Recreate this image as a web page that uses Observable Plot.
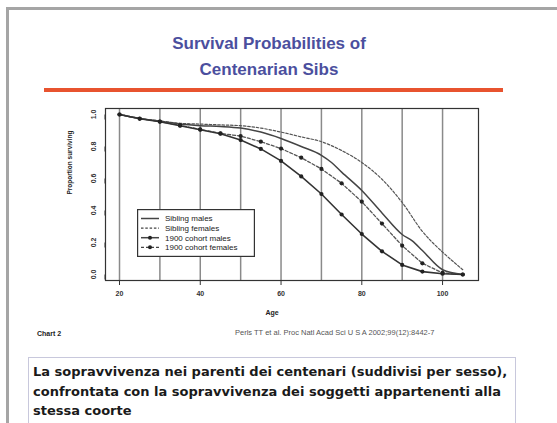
<!DOCTYPE html>
<html><head><meta charset="utf-8">
<script src="https://cdn.jsdelivr.net/npm/d3@7"></script>
<script src="https://cdn.jsdelivr.net/npm/@observablehq/plot@0.6"></script>
<style>
html,body{margin:0;padding:0;background:#fff;width:557px;height:423px;overflow:hidden;font-family:"Liberation Sans",Arial,sans-serif;}
#frame{position:absolute;left:6px;top:7px;width:600px;height:500px;border-left:3px solid #a5a5a5;border-top:3px solid #a5a5a5;}
#title{position:absolute;left:0;width:538px;top:31px;text-align:center;color:#4b4f9e;font-weight:bold;font-size:17px;line-height:26px;}
#rule{position:absolute;left:44px;width:459px;top:88px;height:4px;background:#e8532f;}
#chart{position:absolute;left:0;top:100px;}
#legend{position:absolute;left:137px;top:209px;}
#chartno{position:absolute;left:37px;top:330px;font-size:7px;font-weight:bold;color:#222;}
#cite{position:absolute;left:235px;top:328px;font-size:7.5px;color:#555;white-space:nowrap;}
#box{position:absolute;left:28px;top:357px;width:486px;height:80px;border:1.5px solid #c8c8dc;}
#boxtext{position:absolute;left:33px;top:362px;font-family:"DejaVu Sans",Verdana,sans-serif;font-weight:bold;font-size:13px;line-height:19.5px;color:#1a1a1a;white-space:nowrap;}
</style></head>
<body>
<div id="frame"></div>
<div id="title">Survival Probabilities of<br>Centenarian Sibs</div>
<div id="rule"></div>
<div id="chart"></div>
<div id="legend"></div>
<div id="chartno">Chart 2</div>
<div id="cite">Perls TT et al. Proc Natl Acad Sci U S A 2002;99(12):8442-7</div>
<div id="box"></div>
<div id="boxtext">La sopravvivenza nei parenti dei centenari (suddivisi per sesso),<br>confrontata con la sopravvivenza dei soggetti appartenenti alla<br>stessa coorte</div>
<script>
// ---- data ----
const cohortAges = [20,25,30,35,40,45,50,55,60,65,70,75,80,85,90,95,100,105];
const cohortMales = [1.0,0.973,0.955,0.93,0.905,0.88,0.84,0.785,0.71,0.613,0.503,0.375,0.253,0.145,0.06,0.018,0.005,0.0];
const cohortFemales = [1.0,0.975,0.956,0.932,0.907,0.882,0.865,0.83,0.787,0.73,0.66,0.57,0.455,0.318,0.18,0.07,0.01,0.0];
const sibMaleAges = [20,25,30,35,40,45,50,55,60,65,70,72.5,75,80,85,90,92.5,95,100,105];
const sibMales = [1.0,0.975,0.958,0.94,0.93,0.925,0.915,0.89,0.85,0.80,0.745,0.70,0.64,0.525,0.385,0.25,0.21,0.15,0.03,0.0];
const sibFemaleAges = [20,25,30,35,40,45,50,55,60,65,70,75,80,85,90,95,97.5,100,105];
const sibFemales = [1.0,0.975,0.96,0.945,0.94,0.935,0.93,0.915,0.89,0.86,0.83,0.775,0.70,0.595,0.45,0.27,0.20,0.14,0.03];
const seriesNames = ["Sibling males","Sibling females","1900 cohort males","1900 cohort females"];
const xTicks = [20,40,60,80,100];
const yTicks = [0,0.2,0.4,0.6,0.8,1.0];

const mk = (ages, vals) => ages.map((a,i)=>({age:a, p:vals[i]}));
const dSM = mk(sibMaleAges, sibMales);
const dSF = mk(sibFemaleAges, sibFemales);
const dCM = mk(cohortAges, cohortMales);
const dCF = mk(cohortAges, cohortFemales);

const ink = "#333";
const chart = Plot.plot({
  width: 557, height: 230,
  marginTop: 8, marginBottom: 50, marginLeft: 105, marginRight: 79,
  x: {domain: [16.53, 108.9]},
  y: {domain: [-0.0375, 1.0375]},
  style: {fontFamily: "Liberation Sans, Arial, sans-serif", fontSize: "7px", color: "#333", background: "transparent"},
  marks: [
    Plot.gridX({ticks: 10, stroke: "#8a8a8a", strokeOpacity: 1, strokeWidth: 1.5}),
    Plot.lineY(dSF, {x: "age", y: "p", stroke: "#555", strokeWidth: 1.2, strokeDasharray: "2.5,1.8", curve: "monotone-x"}),
    Plot.lineY(dSM, {x: "age", y: "p", stroke: "#444", strokeWidth: 1.5, curve: "monotone-x"}),
    Plot.lineY(dCF, {x: "age", y: "p", stroke: "#555", strokeWidth: 1.3, strokeDasharray: "3,2"}),
    Plot.lineY(dCM, {x: "age", y: "p", stroke: "#333", strokeWidth: 1.6}),
    Plot.dot(dCF, {x: "age", y: "p", r: 2.1, fill: "#222"}),
    Plot.dot(dCM, {x: "age", y: "p", r: 2.1, fill: "#222"}),
    Plot.frame({stroke: ink, strokeWidth: 1.2}),
    Plot.axisX(xTicks, {tickSize: 5, tickPadding: 6, label: null, fontWeight: "bold", stroke: ink}),
    Plot.axisY(yTicks, {tickSize: 5, tickPadding: 5, label: null, tickFormat: d3.format(".1f"), rotate: -90, textAnchor: "middle", lineAnchor: "bottom", fontWeight: "bold", stroke: ink}),
    Plot.text(["Age"], {frameAnchor: "bottom", dx: -20, dy: 34, fontWeight: "bold", fontSize: 7, fill: "#222"}),
    Plot.text(["Proportion surviving"], {frameAnchor: "left", dx: -36, rotate: -90, fontWeight: "bold", fontSize: 6.5, fill: "#222"})
  ]
});
document.getElementById("chart").appendChild(chart);

// legend
const lw = 118, lh = 48;
const leg = d3.select("#legend").append("svg").attr("width", lw).attr("height", lh);
leg.append("rect").attr("x", 0.6).attr("y", 0.6).attr("width", lw-1.2).attr("height", lh-1.2).attr("fill", "#fff").attr("stroke", "#333").attr("stroke-width", 1.2);
const styles = [
  {dash: null, w: 1.5, dot: false},
  {dash: "2.5,1.8", w: 1.2, dot: false},
  {dash: null, w: 1.5, dot: true},
  {dash: "3,2", w: 1.3, dot: true}
];
seriesNames.forEach((name, i) => {
  const y = 9.5 + i * 9.6;
  const ln = leg.append("line").attr("x1", 4).attr("x2", 22).attr("y1", y).attr("y2", y).attr("stroke", "#444").attr("stroke-width", styles[i].w);
  if (styles[i].dash) ln.attr("stroke-dasharray", styles[i].dash);
  if (styles[i].dot) leg.append("circle").attr("cx", 13).attr("cy", y).attr("r", 2).attr("fill", "#222");
  leg.append("text").attr("x", 28).attr("y", y + 2.8).attr("font-size", 8).attr("font-family", "Liberation Sans, Arial, sans-serif").attr("fill", "#222").text(name);
});
</script>
</body></html>
